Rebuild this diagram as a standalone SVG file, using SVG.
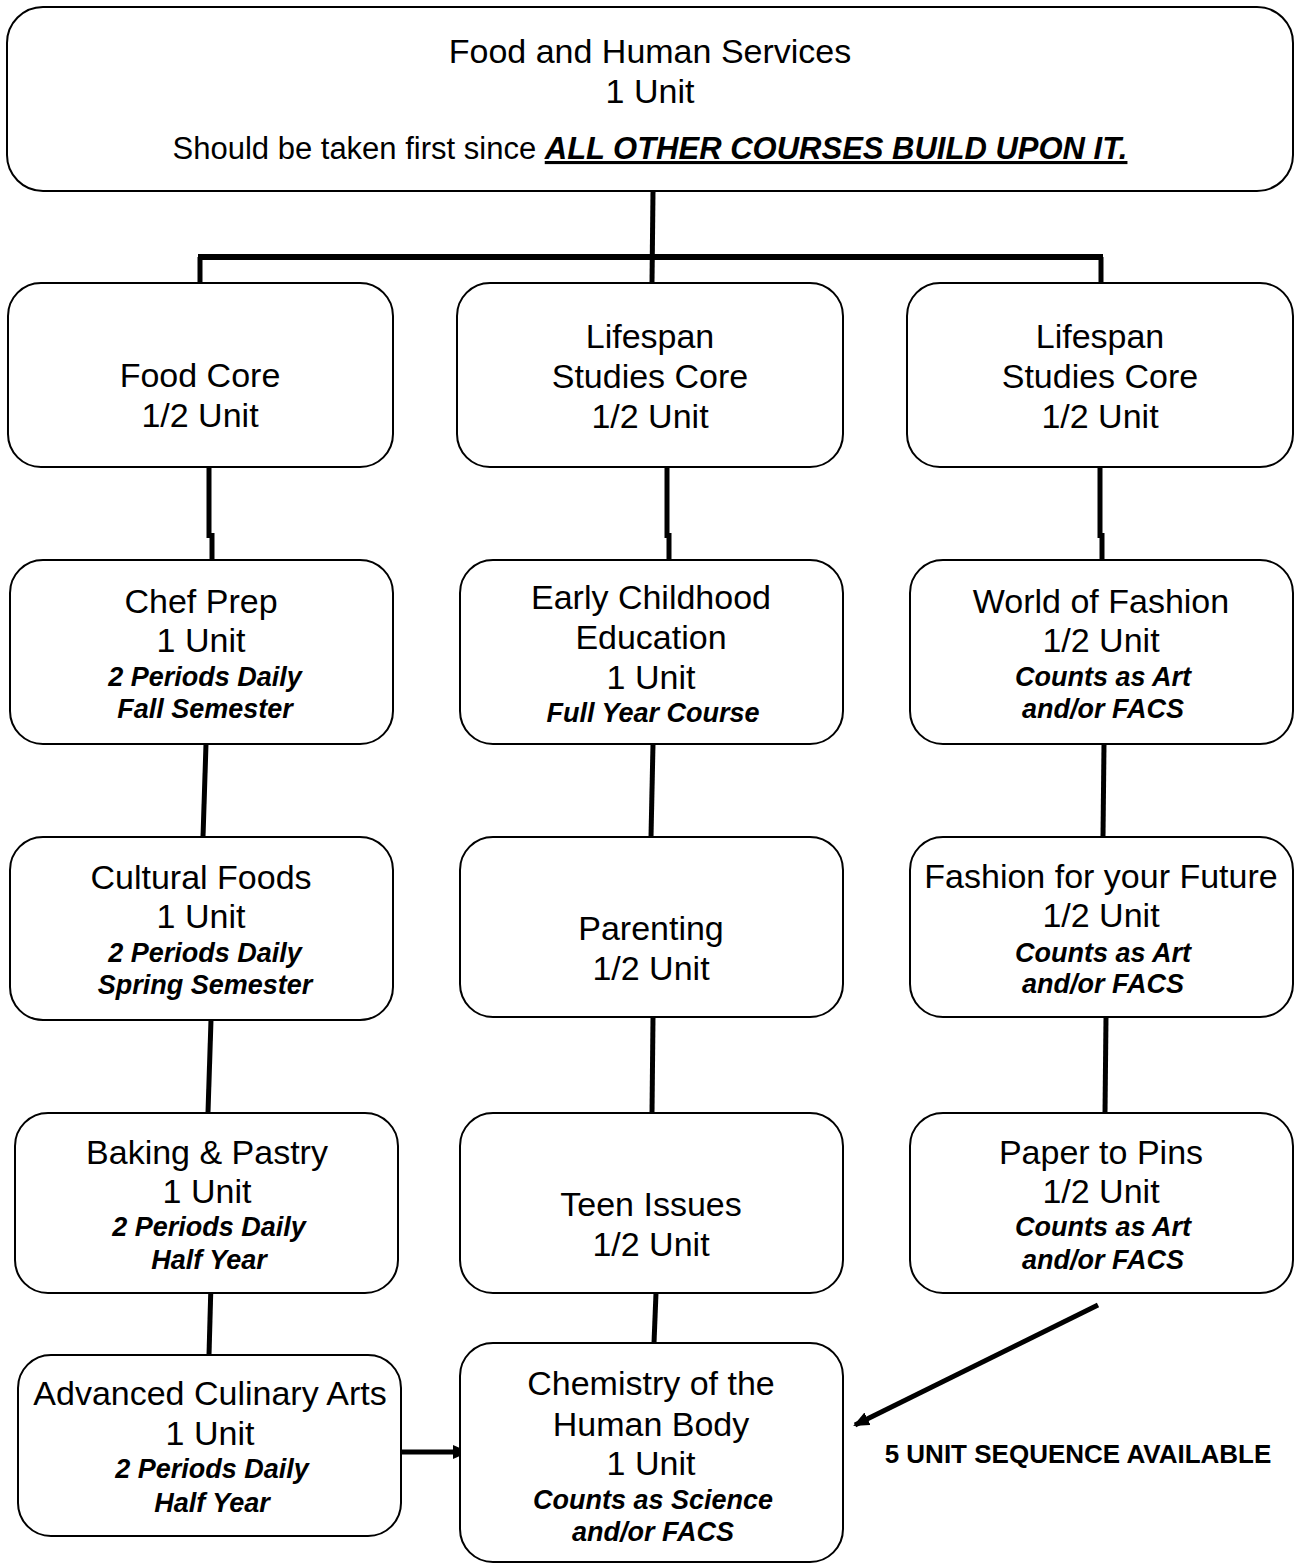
<svg xmlns="http://www.w3.org/2000/svg" width="1294" height="1564" viewBox="0 0 1294 1564">
<defs>
<style>
.box{fill:#fff;stroke:#000;stroke-width:2}
.t{font-family:"Liberation Sans",Arial,sans-serif;font-size:34px;fill:#000;text-anchor:middle}
.s{font-family:"Liberation Sans",Arial,sans-serif;font-size:27px;font-weight:bold;font-style:italic;fill:#000;text-anchor:middle}
.c{stroke:#000;stroke-width:5;fill:none}
</style>
<marker id="ah" markerUnits="userSpaceOnUse" markerWidth="16" markerHeight="14" refX="14" refY="7" orient="auto">
<path d="M0,0 L16,7 L0,14 Z" fill="#000"/>
</marker>
</defs>
<rect width="1294" height="1564" fill="#fff"/>

<g id="connectors">
<line class="c" x1="653" y1="191" x2="652" y2="283"/>
<line class="c" x1="198" y1="257" x2="1103" y2="257" style="stroke-width:6"/>
<line class="c" x1="200" y1="257" x2="200" y2="284"/>
<line class="c" x1="1101" y1="257" x2="1101" y2="284"/>
<line class="c" x1="209" y1="467" x2="209" y2="538"/>
<line class="c" x1="212" y1="533" x2="212" y2="560"/>
<line class="c" x1="667" y1="467" x2="667" y2="538"/>
<line class="c" x1="669" y1="533" x2="669" y2="560"/>
<line class="c" x1="1100" y1="467" x2="1100" y2="538"/>
<line class="c" x1="1102" y1="533" x2="1102" y2="560"/>
<line class="c" x1="206" y1="744" x2="203" y2="837"/>
<line class="c" x1="653" y1="744" x2="651" y2="837"/>
<line class="c" x1="1104" y1="744" x2="1103" y2="837"/>
<line class="c" x1="211" y1="1020" x2="208" y2="1112"/>
<line class="c" x1="653" y1="1017" x2="652" y2="1113"/>
<line class="c" x1="1106" y1="1017" x2="1105" y2="1113"/>
<line class="c" x1="211" y1="1283" x2="209" y2="1355"/>
<line class="c" x1="656" y1="1293" x2="654" y2="1343"/>
<line class="c" x1="402" y1="1452" x2="467" y2="1452" marker-end="url(#ah)"/>
<line class="c" x1="1098" y1="1305" x2="855" y2="1425" marker-end="url(#ah)"/>
</g>

<g id="food-human-services">
<rect class="box" x="7" y="7" width="1286" height="184" rx="36"/>
<text class="t" x="650" y="63">Food and Human Services</text>
<text class="t" x="650" y="103">1 Unit</text>
<text class="t" x="650" y="159" style="font-size:31px">Should be taken first since <tspan font-weight="bold" font-style="italic" text-decoration="underline">ALL OTHER COURSES BUILD UPON IT.</tspan></text>
</g>

<g id="food-core">
<rect class="box" x="8" y="283" width="385" height="184" rx="33"/>
<text class="t" x="200" y="387">Food Core</text>
<text class="t" x="200" y="427">1/2 Unit</text>
</g>

<g id="lifespan-core-1">
<rect class="box" x="457" y="283" width="386" height="184" rx="33"/>
<text class="t" x="650" y="348">Lifespan</text>
<text class="t" x="650" y="388">Studies Core</text>
<text class="t" x="650" y="428">1/2 Unit</text>
</g>

<g id="lifespan-core-2">
<rect class="box" x="907" y="283" width="386" height="184" rx="33"/>
<text class="t" x="1100" y="348">Lifespan</text>
<text class="t" x="1100" y="388">Studies Core</text>
<text class="t" x="1100" y="428">1/2 Unit</text>
</g>

<g id="chef-prep">
<rect class="box" x="10" y="560" width="383" height="184" rx="33"/>
<text class="t" x="201" y="613">Chef Prep</text>
<text class="t" x="201" y="652">1 Unit</text>
<text class="s" x="205" y="686">2 Periods Daily</text>
<text class="s" x="205" y="718">Fall Semester</text>
</g>

<g id="early-childhood">
<rect class="box" x="460" y="560" width="383" height="184" rx="33"/>
<text class="t" x="651" y="609">Early Childhood</text>
<text class="t" x="651" y="649">Education</text>
<text class="t" x="651" y="689">1 Unit</text>
<text class="s" x="653" y="722">Full Year Course</text>
</g>

<g id="world-of-fashion">
<rect class="box" x="910" y="560" width="383" height="184" rx="33"/>
<text class="t" x="1101" y="613">World of Fashion</text>
<text class="t" x="1101" y="652">1/2 Unit</text>
<text class="s" x="1103" y="686">Counts as Art</text>
<text class="s" x="1103" y="718">and/or FACS</text>
</g>

<g id="cultural-foods">
<rect class="box" x="10" y="837" width="383" height="183" rx="33"/>
<text class="t" x="201" y="889">Cultural Foods</text>
<text class="t" x="201" y="928">1 Unit</text>
<text class="s" x="205" y="962">2 Periods Daily</text>
<text class="s" x="205" y="994">Spring Semester</text>
</g>

<g id="parenting">
<rect class="box" x="460" y="837" width="383" height="180" rx="33"/>
<text class="t" x="651" y="940">Parenting</text>
<text class="t" x="651" y="980">1/2 Unit</text>
</g>

<g id="fashion-future">
<rect class="box" x="910" y="837" width="383" height="180" rx="33"/>
<text class="t" x="1101" y="888">Fashion for your Future</text>
<text class="t" x="1101" y="927">1/2 Unit</text>
<text class="s" x="1103" y="962">Counts as Art</text>
<text class="s" x="1103" y="993">and/or FACS</text>
</g>

<g id="baking-pastry">
<rect class="box" x="15" y="1113" width="383" height="180" rx="33"/>
<text class="t" x="207" y="1164">Baking &amp; Pastry</text>
<text class="t" x="207" y="1203">1 Unit</text>
<text class="s" x="209" y="1236">2 Periods Daily</text>
<text class="s" x="209" y="1269">Half Year</text>
</g>

<g id="teen-issues">
<rect class="box" x="460" y="1113" width="383" height="180" rx="33"/>
<text class="t" x="651" y="1216">Teen Issues</text>
<text class="t" x="651" y="1256">1/2 Unit</text>
</g>

<g id="paper-to-pins">
<rect class="box" x="910" y="1113" width="383" height="180" rx="33"/>
<text class="t" x="1101" y="1164">Paper to Pins</text>
<text class="t" x="1101" y="1203">1/2 Unit</text>
<text class="s" x="1103" y="1236">Counts as Art</text>
<text class="s" x="1103" y="1269">and/or FACS</text>
</g>

<g id="advanced-culinary">
<rect class="box" x="18" y="1355" width="383" height="181" rx="33"/>
<text class="t" x="210" y="1405">Advanced Culinary Arts</text>
<text class="t" x="210" y="1445">1 Unit</text>
<text class="s" x="212" y="1478">2 Periods Daily</text>
<text class="s" x="212" y="1512">Half Year</text>
</g>

<g id="chemistry">
<rect class="box" x="460" y="1343" width="383" height="219" rx="33"/>
<text class="t" x="651" y="1395">Chemistry of the</text>
<text class="t" x="651" y="1436">Human Body</text>
<text class="t" x="651" y="1475">1 Unit</text>
<text class="s" x="653" y="1509">Counts as Science</text>
<text class="s" x="653" y="1541">and/or FACS</text>
</g>

<g id="five-unit-label">
<text x="1078" y="1463" style="font-family:'Liberation Sans',Arial,sans-serif;font-size:26px;font-weight:bold;text-anchor:middle">5 UNIT SEQUENCE AVAILABLE</text>
</g>
</svg>
